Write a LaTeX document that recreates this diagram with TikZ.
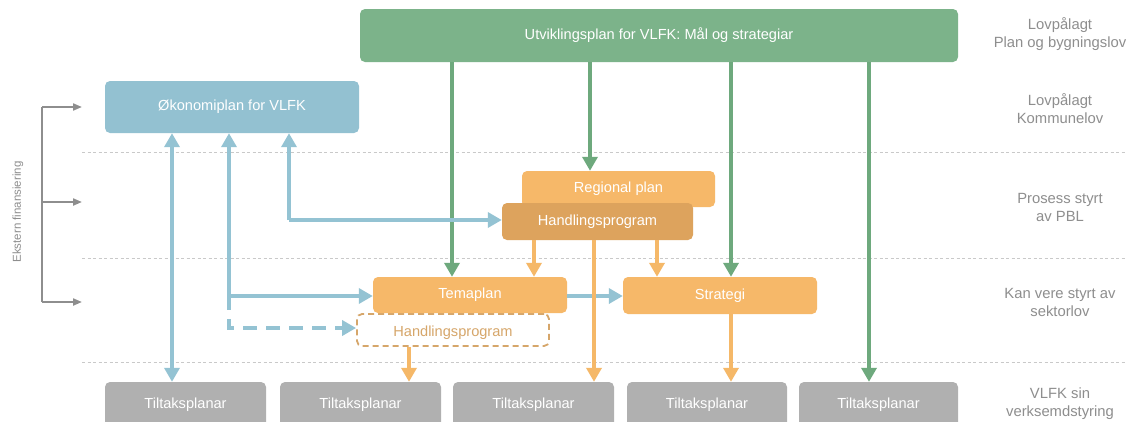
\documentclass[tikz,border=0pt]{standalone}
\usepackage{fontspec}
\setmainfont{Liberation Sans}
\usetikzlibrary{arrows.meta}
\definecolor{gbox}{HTML}{7CB38A}
\definecolor{garrow}{HTML}{6EA97D}
\definecolor{bbox}{HTML}{93C1D1}
\definecolor{barrow}{HTML}{94C3D3}
\definecolor{obox}{HTML}{F6B869}
\definecolor{odark}{HTML}{DDA35D}
\definecolor{oarrow}{HTML}{F5B868}
\definecolor{otext}{HTML}{D6A66A}
\definecolor{tbox}{HTML}{B0B0B0}
\definecolor{lbl}{HTML}{8E8E8E}
\definecolor{sep}{HTML}{C9C9C9}
\begin{document}
\begin{tikzpicture}[x=1pt,y=-1pt,
  box/.style={rounded corners=5pt, inner sep=0pt, text=white, font=\fontsize{14.6}{16}\selectfont},
  arr/.style={line width=4.5pt, -{Triangle[width=15pt,length=14pt]}},
  garr/.style={arr, draw=garrow},
  barr/.style={arr, draw=barrow},
  oarr/.style={arr, draw=oarrow},
  seplin/.style={draw=sep, line width=0.8pt, dash pattern=on 3pt off 2.5pt},
  rlabel/.style={text=lbl, align=center, font=\fontsize{14.8}{18}\selectfont},
  brk/.style={draw=lbl, line width=2pt},
]
\useasboundingbox (0,0) rectangle (1131,421);
\clip (0,0) rectangle (1131,421);
\fill[white] (0,0) rectangle (1131,421);

% separators
\foreach \yy in {152,258,362} \draw[seplin] (82,\yy) -- (1125,\yy);

% column coordinates
\coordinate (cA) at (172,0);
\coordinate (cB) at (229,0);
\coordinate (cC) at (289,0);
\coordinate (g1) at (452,0);
\coordinate (g2) at (590,0);
\coordinate (g3) at (731,0);
\coordinate (g4) at (869,0);
\coordinate (o1) at (534,0);
\coordinate (o2) at (594,0);
\coordinate (o3) at (657,0);
\coordinate (o4) at (409,0);
\coordinate (jB) at (229,296);
\coordinate (kB) at (229,328);
\coordinate (kC) at (289,220);

% boxes
\node[box, fill=gbox, minimum width=598pt, minimum height=53pt] (uv) at (659,35.5) {Utviklingsplan for VLFK: Mål og strategiar};
\node[box, fill=bbox, minimum width=254pt, minimum height=52pt] (oko) at (232,107) {Økonomiplan for VLFK};
\node[box, fill=obox, minimum width=193pt, minimum height=36pt] (reg) at (618.5,189) {Regional plan};
\node[box, fill=odark, minimum width=191pt, minimum height=37pt] (hp) at (597.5,221.5) {Handlingsprogram};
\node[box, draw=otext, line width=1.8pt, dash pattern=on 6pt off 4pt, text=otext, minimum width=192pt, minimum height=32pt, text depth=0pt] (hpd) at (453,330) {\raisebox{-3pt}{Handlingsprogram}};
\node[box, fill=obox, minimum width=194pt, minimum height=36pt] (tema) at (470,295) {Temaplan};
\node[box, fill=obox, minimum width=194pt, minimum height=37pt] (strat) at (720,295.5) {Strategi};
\node[box, fill=tbox, minimum width=161pt, minimum height=46pt] (t1) at (185.5,405) {\raisebox{2pt}{Tiltaksplanar}};
\node[box, fill=tbox, minimum width=161pt, minimum height=46pt] (t2) at (360.5,405) {\raisebox{2pt}{Tiltaksplanar}};
\node[box, fill=tbox, minimum width=161pt, minimum height=46pt] (t3) at (533.5,405) {\raisebox{2pt}{Tiltaksplanar}};
\node[box, fill=tbox, minimum width=160pt, minimum height=46pt] (t4) at (707,405) {\raisebox{2pt}{Tiltaksplanar}};
\node[box, fill=tbox, minimum width=159pt, minimum height=46pt] (t5) at (878.5,405) {\raisebox{2pt}{Tiltaksplanar}};

% green arrows
\draw[garr] (uv.south -| g1) -- (tema.north -| g1);
\draw[garr] (uv.south -| g2) -- (reg.north -| g2);
\draw[garr] (uv.south -| g3) -- (strat.north -| g3);
\draw[garr] (uv.south -| g4) -- (t5.north -| g4);

% blue arrows
\draw[barr, {Triangle[width=15pt,length=14pt]}-{Triangle[width=15pt,length=14pt]}] (oko.south -| cA) -- (t1.north -| cA);
\draw[barr] (jB) -- (oko.south -| cB);
\draw[barr] (jB) -- (tema.west |- jB);
\draw[barr, dash pattern=on 14pt off 9pt] (jB) -- (kB) -- (hpd.west |- kB);
\draw[barr] (kC) -- (oko.south -| cC);
\draw[barr] (kC) -- (hp.west |- kC);
\draw[barr] (tema.east |- jB) -- (strat.west |- jB);

% orange arrows
\draw[oarr] (hp.south -| o1) -- (tema.north -| o1);
\draw[oarr] (hp.south -| o3) -- (strat.north -| o3);
\draw[oarr] (hp.south -| o2) -- (t3.north -| o2);
\draw[oarr] (hpd.south -| o4) -- (t2.north -| o4);
\draw[oarr] (strat.south -| g3) -- (t4.north -| g3);

% right labels
\node[rlabel] (r1) at (1060,34) {Lovpålagt\\Plan og bygningslov};
\node[rlabel] (r2) at (1060,109) {Lovpålagt\\Kommunelov};
\node[rlabel] (r3) at (1060,207) {Prosess styrt\\av PBL};
\node[rlabel] (r4) at (1060,302) {Kan vere styrt av\\sektorlov};
\node[rlabel] (r5) at (1060,404) {VLFK sin\\verksemdstyring};

% left bracket
\coordinate (b1) at (82,107);
\coordinate (b2) at (82,202);
\coordinate (b3) at (82,302);
\draw[brk] (42,107) -- (42,302);
\foreach \b in {b1,b2,b3} \draw[brk, -{Triangle[width=7pt,length=9pt]}] (\b -| 42,0) -- (\b);
\node[text=lbl, rotate=90, font=\fontsize{11.5}{13}\selectfont] (ek) at (18,212) {Ekstern finansiering};
\end{tikzpicture}
\end{document}
